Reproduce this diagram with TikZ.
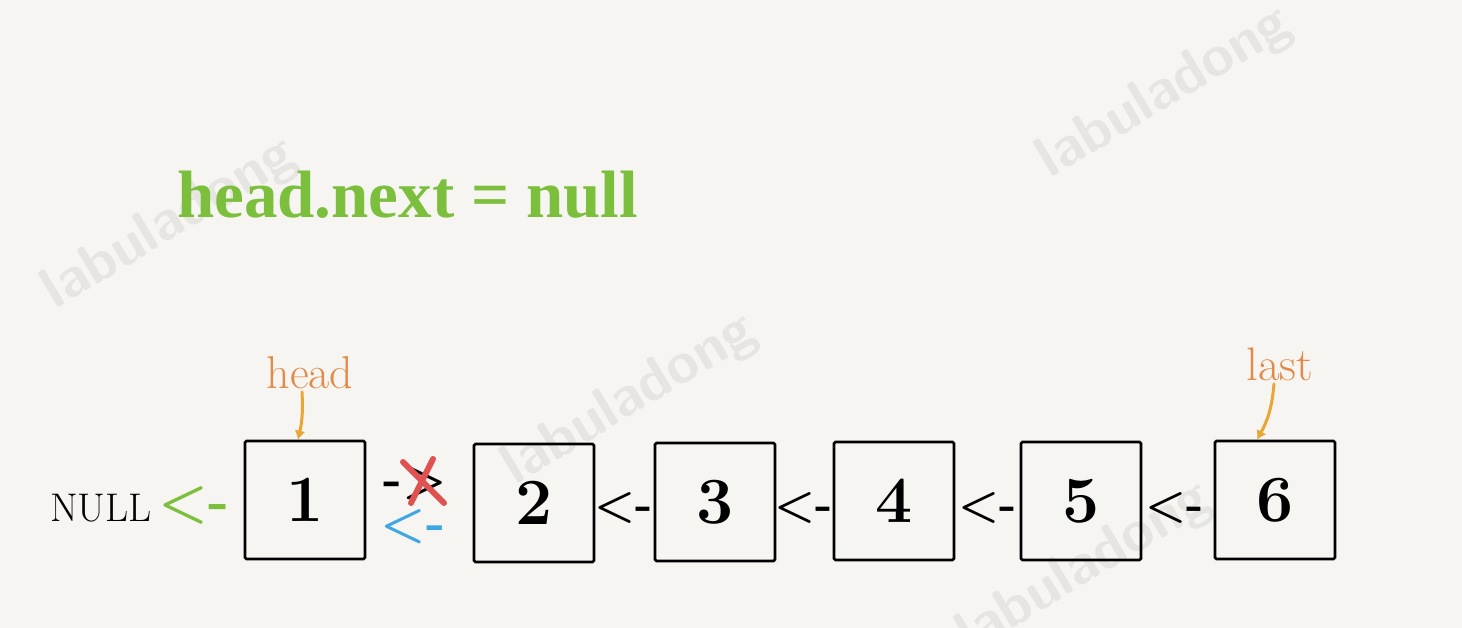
\documentclass[tikz,border=0pt]{standalone}
\usepackage{fontspec}
\usetikzlibrary{arrows.meta}
\newfontfamily\titlefont{Liberation Serif}
\definecolor{paper}{HTML}{F6F5F2}
\definecolor{wm}{HTML}{E6E5E2}
\definecolor{grn}{HTML}{7CBF3C}
\definecolor{org}{HTML}{E38A46}
\definecolor{pinc}{HTML}{E9A634}
\definecolor{blu}{HTML}{3EA6E2}
\definecolor{rd}{HTML}{E05252}
\newcommand{\sz}[1]{\fontsize{#1}{#1}\selectfont}

\begin{document}
\begin{tikzpicture}[x=1pt,y=-1pt,
  box/.style={draw,line width=2.6pt,rounded corners=1.5pt,minimum width=120pt,minimum height=118pt,inner sep=0pt,font=\bfseries\sz{66}},
  lnk/.style={inner sep=0pt,font=\bfseries\sz{46}},
  pin/.style={draw=pinc,line width=3pt,line cap=round,-{Latex[length=9pt,width=11pt]}},
  wmark/.style={text=wm,font=\sffamily\bfseries\sz{58},rotate=31}]
\fill[paper] (0,0) rectangle (1462,628);
\useasboundingbox (0,0) rectangle (1462,628);
\foreach \p in {(170,224),(1165,93),(630,400),(1085,568)}\node[wmark] at \p {labuladong};
\node[anchor=base west,text=grn,inner sep=0pt,font=\titlefont\bfseries\sz{67}] (ttl) at (177,218) {head.next = null};
\foreach \n/\x/\y in {1/305/500,2/534/503,3/715/502,4/894/501,5/1081/501,6/1275/500}\node[box] (n\n) at (\x,\y) {\n};
\foreach \i/\x in {23/624,34/804,45/988,56/1175}\node[lnk] (l\i) at (\x,508) {<-};
\node[anchor=base west,inner sep=0pt,font=\sz{40}] (nul) at (50,521) {NULL};
\node[lnk,text=grn,font=\bfseries\sz{56}] (lg) at (194,505) {<-};
\node[lnk,font=\bfseries\sz{50}] (l12) at (415,483) {->};
\node[lnk,text=blu,font=\bfseries\sz{51}] (lb) at (413,527) {<-};
\draw[rd,line width=6pt,line cap=round] (403,462)--(444,503) (433,459)--(411,503);
\node[anchor=base,text=org,font=\sz{46}] (hd) at (310,388) {head};
\node[anchor=base,text=org,font=\sz{47}] (lst) at (1280,380) {last};
\draw[pin] ([xshift=-8pt]hd.south) to[bend left=8] ([xshift=-7pt]n1.north);
\draw[pin] ([xshift=-6pt]lst.south) to[bend left=12] ([xshift=-18pt]n6.north);
\end{tikzpicture}
\end{document}
